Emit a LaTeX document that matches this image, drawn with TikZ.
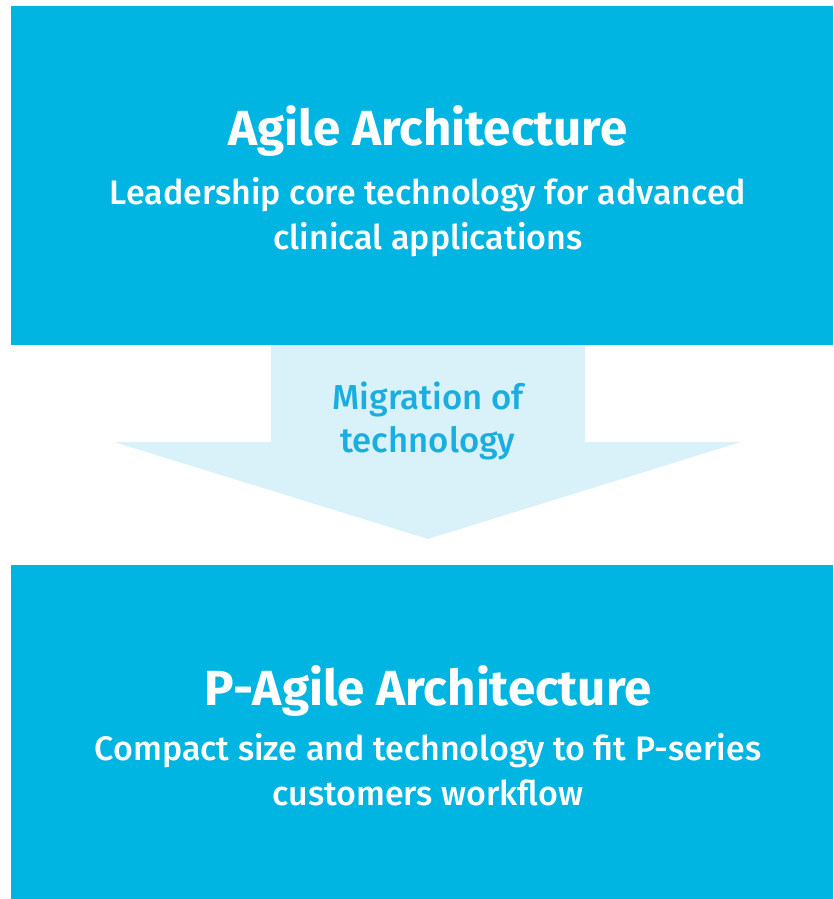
\documentclass[tikz,border=0pt]{standalone}
\usepackage{fontspec}
\setmainfont{Fira Sans}
\newfontfamily\medfont{Fira Sans Medium}
\usepackage{tikz}

\definecolor{boxblue}{HTML}{00B5E2}
\definecolor{arrowpale}{HTML}{D9F2FA}
\definecolor{arrowtext}{HTML}{1AAEE0}

\begin{document}
\begin{tikzpicture}[x=0.75pt, y=-0.75pt,
    title/.style={text=white, font=\fontsize{37}{40}\selectfont\bfseries, anchor=base, inner sep=0pt},
    sub/.style={text=white, font=\medfont\fontsize{25.5}{33.75}\selectfont, anchor=base, inner sep=0pt, align=center},
    migr/.style={text=arrowtext, font=\medfont\fontsize{26}{32.25}\selectfont, anchor=base, inner sep=0pt, align=center}]
            \useasboundingbox (0,0) rectangle (833,899);
            % boxes
            \fill[boxblue] (11,6) rectangle (833,345);
            \fill[boxblue] (11,565) rectangle (833,899);
            % arrow
            \fill[arrowpale] (271,345) -- (585,345) -- (585,442) -- (741,442)
                -- (428,539) -- (114,442) -- (271,442) -- cycle;
            % texts (base = last line)
            \node[title] (agile) at (428,145) {Agile Architecture};
            \node[sub] (agiledesc) at (428,249) {Leadership core technology for advanced\\clinical applications};
            \node[migr] (migration) at (428,452) {Migration of\\technology};
            \node[title] (pagile) at (428,705) {P-Agile Architecture};
            \node[sub] (pagiledesc) at (428,805) {Compact size and technology to fit P-series\\customers workflow};
        \end{tikzpicture}
\end{document}
